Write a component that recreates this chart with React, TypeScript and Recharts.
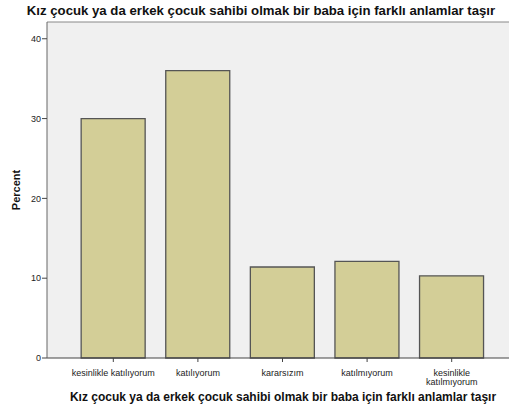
import React from 'react';
import { BarChart, Bar, XAxis, YAxis, CartesianGrid, ReferenceLine, Label } from 'recharts';

const title = 'Kız çocuk ya da erkek çocuk sahibi olmak bir baba için farklı anlamlar taşır';
const categories = ['kesinlikle katılıyorum', 'katılıyorum', 'kararsızım', 'katılmıyorum', 'kesinlikle katılmıyorum'];
const percents = [30.0, 36.0, 11.4, 12.1, 10.3];
const yTicks = [0, 10, 20, 30, 40];

const data = categories.map((name, i) => ({ name, percent: percents[i] }));

const FONT = '"Liberation Sans", Arial, sans-serif';

function CategoryTick(props: any) {
    const { x, y, payload } = props;
    const text: string = payload.value;
    const words = text.split(' ');
    const lines = text.length > 22 ? [words[0], words.slice(1).join(' ')] : [text];
    return (
        <g transform={`translate(${x},${y})`}>
            {lines.map((line, i) => (
                <text
                    key={i}
                    x={0}
                    y={11.5 + i * 9}
                    textAnchor="middle"
                    fontSize={9}
                    fontFamily={FONT}
                    fill="#222"
                >
                    {line}
                </text>
            ))}
        </g>
    );
}

export default function App() {
    return (
        <div
            style={{
                position: 'fixed',
                top: 0,
                left: 0,
                width: 509,
                height: 411,
                overflow: 'hidden',
                background: '#fff',
            }}
        >
            <div
                style={{
                    position: 'absolute',
                    top: 3,
                    left: 0,
                    width: 522,
                    textAlign: 'center',
                    fontFamily: FONT,
                    fontWeight: 'bold',
                    fontSize: 13.2,
                    color: '#111',
                }}
            >
                {title}
            </div>
            <div style={{ position: 'absolute', top: 0, left: 0 }}>
                <BarChart
                    width={530}
                    height={411}
                    data={data}
                    margin={{ top: 22, right: 12, bottom: 0, left: 0 }}
                    barCategoryGap="12%"
                >
                    <CartesianGrid fill="#f0f0f0" horizontal={false} vertical={false} />
                    <ReferenceLine y={42.1} stroke="#888" strokeWidth={1} />
                    <XAxis
                        dataKey="name"
                        height={53}
                        padding={{ left: 24, right: 24 }}
                        axisLine={{ stroke: '#444' }}
                        tickLine={{ stroke: '#444' }}
                        tickSize={4}
                        tick={<CategoryTick />}
                        interval={0}
                    >
                        <Label
                            content={() => (
                                <text
                                    x={283}
                                    y={401}
                                    textAnchor="middle"
                                    fontFamily={FONT}
                                    fontWeight="bold"
                                    fontSize={12}
                                    fill="#111"
                                >
                                    {title}
                                </text>
                            )}
                        />
                    </XAxis>
                    <YAxis
                        width={47}
                        domain={[0, 42.1]}
                        ticks={yTicks}
                        axisLine={{ stroke: '#666' }}
                        tickLine={{ stroke: '#444' }}
                        tickSize={5}
                        tick={{ fontSize: 9, fontFamily: FONT, fill: '#222' }}
                        tickMargin={1}
                    >
                        <Label
                            content={() => (
                                <text
                                    x={20}
                                    y={190}
                                    transform="rotate(-90 20 190)"
                                    textAnchor="middle"
                                    fontFamily={FONT}
                                    fontWeight="bold"
                                    fontSize={11}
                                    fill="#111"
                                >
                                    Percent
                                </text>
                            )}
                        />
                    </YAxis>
                    <Bar
                        dataKey="percent"
                        fill="#d3ce97"
                        stroke="#555"
                        strokeWidth={1.3}
                        isAnimationActive={false}
                    />
                </BarChart>
            </div>
        </div>
    );
}
